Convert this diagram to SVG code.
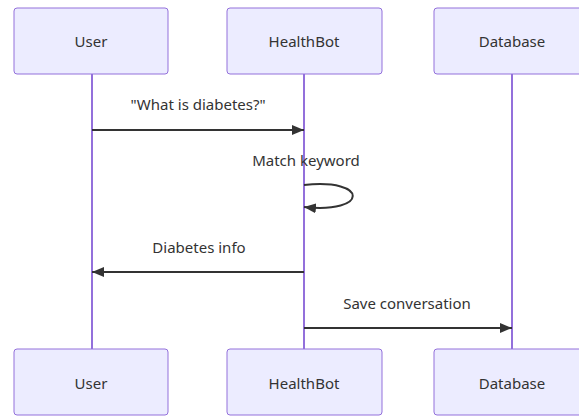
<svg xmlns="http://www.w3.org/2000/svg" width="579" height="416" viewBox="0 0 579 416">
  <style>
    .actor { fill: #ECECFF; stroke: #9370DB; stroke-width: 1; }
    .actor-text { font-family: "Noto Sans", "Open Sans", sans-serif; font-size: 15px; fill: #333333; text-anchor: middle; dominant-baseline: central; }
    .lifeline { stroke: #9370DB; stroke-width: 2; }
    .msg { stroke: #333333; stroke-width: 2; fill: none; }
    .msg-text { font-family: "Noto Sans", "Open Sans", sans-serif; font-size: 15px; fill: #333333; text-anchor: middle; }
  </style>
  <defs>
    <marker id="arrowhead" viewBox="0 0 12 10" refX="12" refY="5" markerWidth="12" markerHeight="10" markerUnits="userSpaceOnUse" orient="auto">
      <path d="M0,0 L12,5 L0,10 z" fill="#333333"/>
    </marker>
  </defs>
  <rect width="579" height="416" fill="#ffffff"/>

  <!-- lifelines -->
  <g id="lifelines">
    <line class="lifeline" x1="92" y1="74" x2="92" y2="349"/>
    <line class="lifeline" x1="304" y1="74" x2="304" y2="349"/>
    <line class="lifeline" x1="512" y1="74" x2="512" y2="349"/>
  </g>

  <!-- participants, top row -->
  <g id="user-top">
    <rect class="actor" x="14" y="8" width="154" height="66" rx="3"/>
    <text class="actor-text" x="91" y="41">User</text>
  </g>
  <g id="healthbot-top">
    <rect class="actor" x="227" y="8" width="155" height="66" rx="3"/>
    <text class="actor-text" x="304" y="41">HealthBot</text>
  </g>
  <g id="database-top">
    <rect class="actor" x="434" y="8" width="155" height="66" rx="3"/>
    <text class="actor-text" x="512" y="41">Database</text>
  </g>

  <!-- participants, bottom row -->
  <g id="user-bottom">
    <rect class="actor" x="14" y="349" width="154" height="66" rx="3"/>
    <text class="actor-text" x="91" y="383">User</text>
  </g>
  <g id="healthbot-bottom">
    <rect class="actor" x="227" y="349" width="155" height="66" rx="3"/>
    <text class="actor-text" x="304" y="383">HealthBot</text>
  </g>
  <g id="database-bottom">
    <rect class="actor" x="434" y="349" width="155" height="66" rx="3"/>
    <text class="actor-text" x="512" y="383">Database</text>
  </g>

  <!-- messages -->
  <g id="connectors">
    <path class="msg" d="M92,130 L304,130" marker-end="url(#arrowhead)"/>
    <path class="msg" d="M304,185 C369,178 369,214 304,207" marker-end="url(#arrowhead)"/>
    <path class="msg" d="M304,272 L92,272" marker-end="url(#arrowhead)"/>
    <path class="msg" d="M304,328 L512,328" marker-end="url(#arrowhead)"/>
  </g>

  <g id="message-labels">
    <text class="msg-text" x="198" y="110">"What is diabetes?"</text>
    <text class="msg-text" x="306" y="166">Match keyword</text>
    <text class="msg-text" x="199" y="253">Diabetes info</text>
    <text class="msg-text" x="407" y="309">Save conversation</text>
  </g>
</svg>
